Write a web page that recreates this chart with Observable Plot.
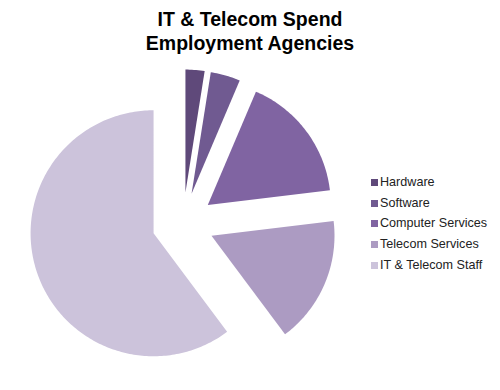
<!DOCTYPE html>
<html>
<head>
<meta charset="utf-8">
<script src="https://cdn.jsdelivr.net/npm/d3@7"></script>
<script src="https://cdn.jsdelivr.net/npm/@observablehq/plot@0.6"></script>
<style>
  html, body { margin: 0; padding: 0; background: #fff; }
  #wrap { position: relative; width: 500px; height: 390px; overflow: hidden; font-family: "Liberation Sans", Arial, sans-serif; }
  #title { position: absolute; left: 0; top: 8px; width: 500px; text-align: center; font-weight: bold; font-size: 19.5px; line-height: 23.5px; color: #000; }
  #chart { position: absolute; left: 0; top: 58px; }
  #legend { position: absolute; left: 371px; top: 172px; font-size: 12.6px; color: #222; }
  .item { height: 20.7px; line-height: 20.7px; white-space: nowrap; }
  .sw { display: inline-block; width: 7px; height: 7px; margin-right: 2px; vertical-align: 0px; }
</style>
</head>
<body>
<div id="wrap">
  <div id="title">IT &amp; Telecom Spend<br>Employment Agencies</div>
  <div id="chart"></div>
  <div id="legend"></div>
</div>
<script>
// Data
const categories = ["Hardware", "Software", "Computer Services", "Telecom Services", "IT & Telecom Staff"];
const values = [2.5, 3.9, 16.7, 16.7, 60.2];
const colors = ["#5f497a", "#705a91", "#8064a2", "#ac9bc2", "#ccc3db"];

// Geometry (pixel units)
const R = 123;        // pie radius
const EXPLODE = 31;   // explosion distance
const total = d3.sum(values);

const pts = [];
let acc = 0;
categories.forEach((c, i) => {
  const a0 = acc / total * 2 * Math.PI;
  acc += values[i];
  const a1 = acc / total * 2 * Math.PI;
  const m = (a0 + a1) / 2;
  const ox = EXPLODE * Math.sin(m), oy = EXPLODE * Math.cos(m);
  pts.push({cat: c, x: ox, y: oy});
  const n = Math.max(4, Math.ceil((a1 - a0) / (Math.PI / 180)));
  for (let k = 0; k <= n; k++) {
    const a = a0 + (a1 - a0) * k / n;
    pts.push({cat: c, x: ox + R * Math.sin(a), y: oy + R * Math.cos(a)});
  }
  pts.push({cat: c, x: ox, y: oy});
});

const W = 500, H = 332, cx = 182.5, cy = 165;
const chart = Plot.plot({
  width: W,
  height: H,
  margin: 0,
  x: {domain: [-cx, W - cx], range: [0, W], axis: null},
  y: {domain: [-(H - cy), cy], range: [H, 0], axis: null},
  color: {domain: categories, range: colors},
  style: {background: "transparent"},
  marks: [
    Plot.line(pts, {x: "x", y: "y", z: "cat", fill: "cat", stroke: "none", curve: "linear"})
  ]
});
document.getElementById("chart").appendChild(chart);

const legend = document.getElementById("legend");
categories.forEach((c, i) => {
  const div = document.createElement("div");
  div.className = "item";
  const sw = document.createElement("span");
  sw.className = "sw";
  sw.style.background = colors[i];
  div.appendChild(sw);
  div.appendChild(document.createTextNode(c));
  legend.appendChild(div);
});
</script>
</body>
</html>
